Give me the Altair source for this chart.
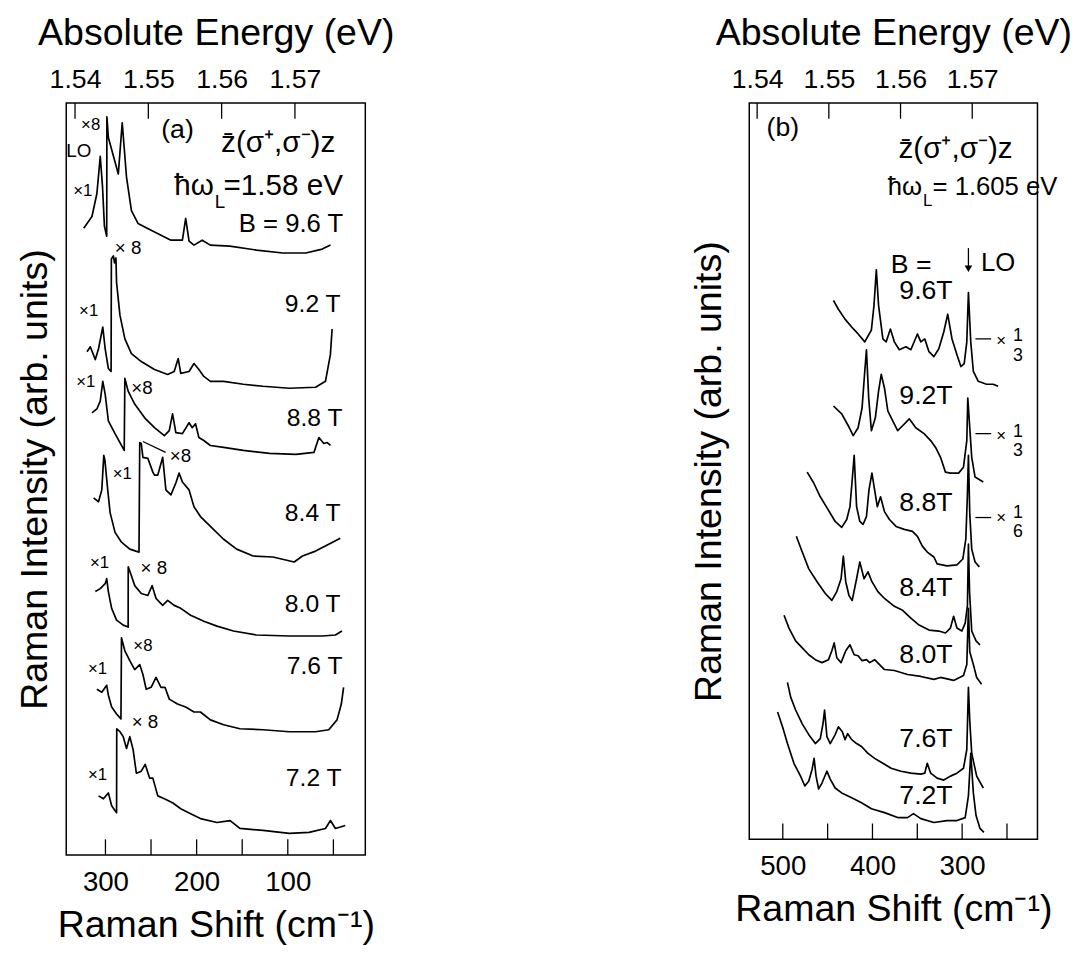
import altair as alt
import pandas as pd

FONT = "Liberation Sans"

# ---------------- Panel (a): Raman shift (cm^-1) vs intensity (arb. units) ----------------
A_FIELDS = ["9.6 T", "9.2 T", "8.8 T", "8.4 T", "8.0 T", "7.6 T", "7.2 T"]

A96_S = [323.8, 314.8, 309.4, 305.7, 303.2, 301.1, 298.6, 298.4, 296.8, 285.9, 281.6, 276.9, 271.5, 264.3,
         249.9, 228.2, 215.6, 212.0, 208.3, 202.9, 193.9, 185.0, 163.6, 134.4, 105.5, 80.3, 62.2, 53.2]
A96_I = [63.5, 64.7, 67.0, 70.8, 67.7, 63.7, 62.7, 74.8, 72.7, 69.0, 74.2, 68.7, 65.3, 64.0,
         63.3, 62.3, 62.3, 64.5, 62.2, 61.8, 62.3, 61.8, 61.7, 61.3, 61.0, 61.0, 61.4, 61.8]

A92_S = [320.2, 316.6, 311.1, 307.6, 302.9, 300.3, 296.8, 293.8, 293.5, 291.3, 290.0, 288.5, 287.8, 284.1,
         278.7, 271.5, 260.7, 246.2, 231.8, 224.6, 220.2, 217.4, 208.3, 202.9, 197.5, 192.1, 184.9, 170.4,
         148.8, 127.2, 98.4, 69.5, 58.7, 53.3, 51.4]
A92_I = [51.0, 51.5, 50.2, 51.3, 53.5, 51.3, 49.3, 49.0, 60.4, 60.7, 60.0, 60.5, 58.0, 54.7,
         52.3, 50.8, 50.0, 49.2, 48.7, 49.0, 50.3, 48.8, 49.0, 49.8, 49.2, 48.5, 48.0, 48.0,
         47.7, 47.5, 47.3, 47.4, 48.0, 50.7, 53.3]

A88_S = [314.8, 309.4, 305.7, 302.9, 300.3, 296.8, 289.5, 279.4, 278.7, 275.1, 267.9, 257.0, 246.2, 235.4,
         230.0, 226.4, 222.8, 215.6, 208.3, 204.8, 201.2, 197.5, 192.1, 184.9, 170.4, 148.8, 120.0, 91.1,
         71.3, 65.9, 60.5, 56.8, 53.2]
A88_I = [44.8, 45.2, 46.0, 48.0, 46.7, 44.0, 42.7, 41.0, 48.3, 47.0, 45.7, 44.3, 43.3, 42.5,
         43.0, 44.7, 42.8, 42.7, 43.8, 43.3, 43.7, 42.3, 42.0, 41.5, 41.3, 41.0, 40.7, 40.6,
         40.8, 42.3, 41.7, 41.8, 41.5]

A84_S = [313.0, 307.6, 304.0, 301.8, 300.6, 297.5, 294.9, 289.5, 282.4, 273.3, 263.2, 262.4, 260.7, 258.9,
         253.5, 248.0, 246.2, 242.6, 237.2, 233.7, 228.2, 222.8, 219.2, 215.6, 208.3, 202.9, 195.8, 184.9,
         170.4, 156.1, 138.0, 116.3, 93.0, 83.9, 69.5, 55.1, 42.4]
A84_I = [36.2, 35.8, 37.0, 40.5, 40.0, 37.0, 34.7, 32.7, 31.7, 31.0, 30.7, 41.8, 41.7, 40.3,
         40.2, 38.8, 38.5, 38.5, 40.3, 37.0, 36.5, 37.7, 38.7, 37.8, 37.0, 35.3, 34.3, 33.3,
         32.0, 31.0, 30.3, 30.2, 29.7, 30.3, 30.8, 31.5, 32.1]

A80_S = [311.1, 305.7, 300.3, 298.6, 296.8, 293.2, 287.8, 280.5, 275.1, 275.0, 271.5, 267.9, 260.7, 253.5,
         248.8, 244.5, 237.2, 231.8, 224.6, 217.4, 206.6, 192.1, 177.7, 159.6, 134.4, 98.4, 62.2, 47.8, 40.6]
A80_I = [26.7, 27.0, 27.5, 28.0, 26.7, 25.0, 23.8, 23.3, 23.1, 29.2, 28.3, 27.3, 26.5, 26.3,
         27.3, 26.0, 25.3, 25.8, 25.3, 25.0, 24.3, 23.7, 23.2, 22.7, 22.3, 22.2, 22.2, 22.3, 22.7]

A76_S = [309.4, 304.0, 298.6, 296.8, 293.2, 287.8, 283.0, 282.4, 278.7, 273.3, 267.9, 262.4, 258.9, 255.3,
         249.9, 244.5, 239.1, 234.7, 230.0, 221.0, 212.0, 202.9, 195.8, 184.9, 170.4, 152.5, 127.2, 98.4,
         69.5, 55.1, 46.0, 41.3, 38.8]
A76_I = [16.8, 16.5, 17.2, 16.2, 15.0, 14.3, 13.8, 22.0, 20.7, 19.7, 18.8, 19.3, 18.3, 16.8,
         17.0, 18.0, 17.0, 17.0, 15.8, 15.3, 15.0, 14.5, 14.5, 13.7, 13.2, 12.8, 12.7, 12.5,
         12.5, 12.7, 13.7, 15.3, 17.0]

A72_S = [307.6, 302.2, 296.8, 293.2, 287.8, 287.6, 284.1, 280.5, 276.9, 273.3, 269.7, 266.1, 260.7, 256.4,
         251.6, 248.0, 242.6, 235.4, 226.4, 217.4, 206.6, 195.8, 177.7, 163.3, 152.5, 127.2, 98.4, 76.7,
         58.7, 53.2, 47.8, 37.0]
A72_I = [6.0, 5.7, 6.3, 5.0, 4.3, 12.8, 12.5, 12.0, 10.8, 12.0, 10.7, 8.3, 8.5, 9.2,
         7.8, 7.8, 6.0, 5.7, 5.3, 4.7, 4.2, 3.7, 3.3, 3.5, 2.7, 2.5, 2.2, 2.3,
         2.7, 3.5, 2.7, 3.0]

# ---------------- Panel (b) ----------------
B_FIELDS = ["9.6T", "9.2T", "8.8T", "8.4T", "8.0T", "7.6T", "7.2T"]

B96_S = [443.5, 438.0, 430.6, 423.2, 416.0, 408.6, 401.2, 398.3, 395.7, 393.2, 388.4, 384.7, 380.0, 375.6,
         370.1, 362.7, 357.2, 349.9, 346.1, 341.7, 337.0, 331.5, 326.0, 320.5, 316.1, 311.3, 305.8, 301.4,
         297.7, 294.8, 293.0, 290.4, 287.5, 282.0, 272.8, 265.4, 259.9]
B96_I = [54.6, 53.7, 52.7, 51.9, 51.2, 50.4, 51.6, 54.1, 57.7, 54.1, 50.7, 50.4, 51.7, 50.4,
         49.6, 49.9, 49.6, 51.2, 50.4, 50.7, 49.4, 48.9, 49.7, 51.4, 53.2, 50.7, 49.1, 47.9,
         48.2, 50.4, 55.4, 50.4, 47.4, 46.4, 46.1, 46.1, 45.9]

B92_S = [443.5, 434.3, 427.0, 421.5, 416.0, 411.6, 408.6, 406.7, 404.2, 401.2, 396.8, 393.2, 390.2, 386.6,
         382.9, 377.4, 371.9, 366.4, 359.0, 351.7, 342.5, 335.1, 329.6, 324.1, 318.6, 313.1, 304.0, 298.5,
         294.8, 293.7, 289.3, 285.6, 276.4]
B92_I = [43.9, 43.1, 41.9, 40.9, 41.7, 43.7, 47.4, 49.6, 44.7, 41.4, 42.7, 45.4, 47.1, 45.7,
         43.4, 42.4, 41.4, 41.9, 42.6, 41.7, 41.1, 40.4, 39.7, 38.7, 37.2, 37.1, 37.1, 37.7,
         40.4, 44.7, 38.7, 36.7, 36.2]

B88_S = [472.8, 465.5, 458.2, 450.8, 441.6, 434.3, 428.7, 425.1, 422.6, 420.4, 417.7, 414.1, 410.5, 406.7,
         403.9, 400.6, 397.6, 394.6, 391.0, 386.6, 381.1, 373.7, 364.6, 355.4, 349.9, 344.4, 338.9, 331.5,
         327.9, 316.9, 305.8, 299.2, 295.9, 294.1, 293.0, 291.5, 289.3, 285.6, 280.8]
B88_I = [37.2, 36.1, 34.7, 33.6, 32.2, 31.6, 32.4, 33.7, 36.4, 38.9, 33.7, 32.2, 31.9, 32.7,
         35.4, 37.1, 35.4, 33.7, 34.7, 33.2, 32.4, 31.7, 31.4, 31.2, 30.7, 29.7, 29.1, 28.6,
         27.9, 27.7, 27.8, 28.4, 30.4, 35.0, 38.9, 33.0, 29.4, 28.1, 27.6]

B84_S = [484.9, 478.3, 471.0, 461.8, 452.6, 445.3, 439.8, 435.0, 432.5, 429.8, 426.2, 422.6, 417.7, 414.1,
         409.4, 405.0, 400.6, 394.0, 386.6, 375.6, 366.4, 357.2, 348.0, 337.0, 326.0, 318.6, 313.1, 309.5,
         305.8, 300.3, 296.6, 294.1, 293.0, 291.7, 289.3, 284.5, 280.1]
B84_I = [30.7, 29.1, 27.4, 26.1, 24.9, 24.2, 25.1, 26.4, 28.7, 26.1, 24.7, 24.2, 26.4, 28.1,
         26.4, 27.1, 26.1, 25.1, 24.4, 23.6, 23.2, 22.4, 21.7, 21.2, 21.1, 20.9, 21.4, 22.6,
         21.4, 21.1, 21.9, 23.7, 29.9, 25.0, 21.1, 20.1, 19.7]

B80_S = [498.6, 493.1, 485.7, 478.3, 471.0, 463.7, 456.3, 449.0, 445.3, 442.7, 439.8, 435.0, 429.8, 425.1,
         420.4, 416.0, 411.6, 406.7, 403.1, 397.6, 392.1, 386.6, 375.6, 360.9, 346.1, 331.5, 324.1, 309.5,
         298.5, 294.8, 293.0, 291.5, 287.5, 283.8, 278.3]
B80_I = [22.7, 21.4, 20.1, 19.4, 18.7, 18.2, 17.9, 18.2, 19.1, 19.9, 18.4, 17.9, 19.1, 19.7,
         18.7, 18.6, 18.1, 18.2, 17.9, 18.2, 17.7, 17.2, 17.1, 16.7, 16.5, 16.2, 16.4, 16.1,
         16.6, 17.7, 23.4, 19.0, 17.7, 16.4, 15.7]

B76_S = [494.8, 491.2, 485.7, 478.3, 471.0, 463.7, 458.2, 455.2, 453.4, 450.8, 447.1, 441.6, 438.0, 433.6,
         430.6, 427.6, 423.2, 417.7, 412.2, 405.0, 397.6, 388.4, 379.2, 368.2, 357.2, 346.1, 341.7, 338.9,
         335.1, 327.9, 320.5, 313.1, 305.8, 298.5, 294.8, 293.0, 291.5, 289.3, 283.8, 276.4]
B76_I = [15.9, 14.4, 13.1, 11.7, 10.6, 9.7, 10.2, 11.7, 13.1, 10.4, 9.7, 10.6, 11.4, 10.9,
         10.1, 10.7, 10.1, 9.7, 9.4, 8.7, 8.2, 7.7, 7.2, 6.9, 6.7, 6.6, 6.7, 7.7,
         6.7, 6.2, 6.0, 6.4, 6.7, 7.2, 9.1, 15.4, 12.0, 8.7, 6.4, 5.2]

B72_S = [505.8, 500.3, 494.8, 487.6, 480.2, 475.4, 471.0, 467.3, 465.1, 462.9, 460.0, 456.3, 450.8, 447.1,
         441.6, 434.3, 423.2, 412.2, 401.2, 386.6, 371.9, 360.9, 354.3, 346.1, 331.5, 316.9, 305.8, 296.6,
         293.0, 290.4, 287.5, 284.5, 280.1, 275.7]
B72_I = [12.9, 11.4, 9.7, 7.7, 6.4, 5.4, 5.9, 7.1, 8.2, 6.4, 5.1, 5.7, 6.9, 6.1,
         5.2, 4.7, 4.2, 3.7, 3.1, 2.7, 2.2, 2.2, 2.6, 2.1, 1.7, 1.9, 1.9, 2.2,
         4.4, 8.7, 4.7, 2.4, 1.1, 0.7]

# axis ticks / labels
A_SHIFT_TICKS = [300, 250, 200, 150, 100, 50]
A_SHIFT_LABELS = [300, 200, 100]
B_SHIFT_TICKS = [500, 450, 400, 350, 300, 250]
B_SHIFT_LABELS = [500, 400, 300]
EV_TICKS = [1.54, 1.55, 1.56, 1.57]

A_XDOM = [343, 15]
B_XDOM = [537.4, 216]
A_EVDOM = [1.5388, 1.5796]
B_EVDOM = [1.5389, 1.5791]
A_YDOM = [0, 76.2]
B_YDOM = [0, 74.6]

X = "\u00d7"
# annotations (shift, intensity, text, font size)
A_TEXT_C = [
    (221.0, 73.5, "(a)", 27), (110.6, 72.1, "z\u0304(\u03c3\u207a,\u03c3\u207b)z", 30),
    (96.5, 63.9, "B = 9.6 T", 26), (316.2, 74.0, X + "8", 17), (329.2, 71.3, "LO", 19),
    (324.9, 67.3, X + "1", 17), (275.1, 61.5, X + " 8", 19), (72.7, 55.8, "9.2 T", 25),
    (318.4, 55.1, X + "1", 17), (321.6, 47.9, X + "1", 17), (260.0, 47.3, X + "8", 19),
    (70.6, 44.3, "8.8 T", 25), (217.7, 40.4, X + "8", 19), (281.6, 38.6, X + "1", 17),
    (72.7, 34.6, "8.4 T", 25), (306.5, 29.6, X + "1", 17), (247.0, 29.1, X + " 8", 19),
    (72.7, 25.4, "8.0 T", 25), (258.9, 21.2, X + "8", 17), (308.7, 18.8, X + "1", 17),
    (70.6, 19.1, "7.6 T", 25), (256.7, 13.5, X + " 8", 19), (308.7, 8.1, X + "1", 17),
    (71.6, 7.8, "7.2 T", 25),
]
A_TEXT_R = [(181.0, 67.8, "\u0127\u03c9", 30)]
A_TEXT_L = [(180.0, 66.2, "L", 19), (170.5, 67.8, "=1.58 eV", 30)]
A_LEADER = [(258.9, 41.9, 234.0, 40.8)]

B_TEXT_C = [
    (500.0, 72.1, "(b)", 27), (307.3, 69.9, "z\u0304(\u03c3\u207a,\u03c3\u207b)z", 30),
    (356.8, 58.2, "B =", 27), (340.3, 55.5, "9.6T", 27), (259.9, 58.4, "LO", 26),
    (340.3, 44.9, "9.2T", 27), (340.3, 34.1, "8.8T", 27), (340.3, 25.4, "8.4T", 27),
    (340.3, 18.7, "8.0T", 27), (340.3, 10.2, "7.6T", 27), (340.3, 4.4, "7.2T", 27),
    (256.6, 50.5, X, 17), (237.9, 51.0, "1", 18), (237.9, 49.0, "3", 18),
    (256.6, 40.9, X, 17), (237.9, 41.3, "1", 18), (237.9, 39.3, "3", 18),
    (256.6, 32.5, X, 17), (237.9, 33.1, "1", 18), (237.9, 31.1, "6", 18),
]
B_TEXT_R = [(344.7, 66.1, "\u0127\u03c9", 26)]
B_TEXT_L = [(343.6, 64.7, "L", 17), (333.0, 66.1, "= 1.605 eV", 26)]
B_DASHES = [(285.2, 50.7, 267.6, 50.7), (285.2, 41.1, 267.6, 41.1), (285.2, 32.6, 267.6, 32.6)]
B_ARROW = [(293.0, 59.9, 293.0, 57.8)]


def curves_df(curves):
    rows = []
    for name, s, v in curves:
        for i, (x, y) in enumerate(zip(s, v)):
            rows.append({"curve": name, "i": i, "shift": x, "inten": y})
    return pd.DataFrame(rows)


def make_yaxis(pad):
    return alt.Axis(labels=False, ticks=False, tickSize=0, domain=False, grid=False,
                    title="Raman Intensity (arb. units)", titleFontSize=38, titlePadding=pad)


def xs(field, dom, axis=None):
    return alt.X(field, scale=alt.Scale(domain=dom, nice=False, zero=False), axis=axis)


def ys(field, dom, axis):
    return alt.Y(field, scale=alt.Scale(domain=dom, nice=False, zero=False), axis=axis)


def text_layer(items, xdom, ydom, yaxis, align):
    df = pd.DataFrame(items, columns=["shift", "inten", "label", "fs"])
    return alt.Chart(df).mark_text(font=FONT, align=align, baseline="middle", color="black").encode(
        x=xs("shift:Q", xdom), y=ys("inten:Q", ydom, yaxis), text="label:N",
        size=alt.Size("fs:Q", scale=None, legend=None))


def seg_layer(items, xdom, ydom, yaxis, width=1.3):
    df = pd.DataFrame(items, columns=["x1", "y1", "x2", "y2"])
    return alt.Chart(df).mark_rule(color="black", strokeWidth=width).encode(
        x=xs("x1:Q", xdom), x2="x2:Q", y=ys("y1:Q", ydom, yaxis), y2="y2:Q")


def panel(curves, xdom, ydom, evdom, w, h, xtick_vals, xlabel_vals, texts_c, texts_r, texts_l, segs,
          ytitle_pad, arrow=None):
    df = curves_df(curves)
    yaxis = make_yaxis(ytitle_pad)
    xaxis = alt.Axis(values=xlabel_vals, ticks=False, tickSize=0, domain=False, grid=False, labelFontSize=28,
                     labelPadding=14, title="Raman Shift (cm\u207b\u00b9)", titleFontSize=38, titlePadding=10,
                     labelFlush=False)
    lines = alt.Chart(df).mark_line(color="black", strokeWidth=1.7, strokeJoin="round").encode(
        x=xs("shift:Q", xdom, xaxis), y=ys("inten:Q", ydom, yaxis), detail="curve:N", order="i:Q")
    bt = alt.Chart(pd.DataFrame({"shift": xtick_vals})).mark_rule(color="black", strokeWidth=1.3).encode(
        x=xs("shift:Q", xdom), y=alt.value(h - 16), y2=alt.value(h))
    evaxis = alt.Axis(orient="top", values=EV_TICKS, ticks=False, tickSize=0, domain=False, grid=False,
                      labelFontSize=27, labelPadding=10, format=".2f", title="Absolute Energy (eV)",
                      titleFontSize=38, titlePadding=13, labelFlush=False)
    tt = alt.Chart(pd.DataFrame({"ev": EV_TICKS})).mark_rule(color="black", strokeWidth=1.3).encode(
        x=alt.X("ev:Q", scale=alt.Scale(domain=evdom, nice=False, zero=False), axis=evaxis),
        y=alt.value(0), y2=alt.value(16))
    layers = [lines, bt, tt,
              text_layer(texts_c, xdom, ydom, yaxis, "center"),
              text_layer(texts_r, xdom, ydom, yaxis, "right"),
              text_layer(texts_l, xdom, ydom, yaxis, "left")]
    for s in segs:
        layers.append(seg_layer(s, xdom, ydom, yaxis))
    if arrow is not None:
        head = pd.DataFrame({"shift": [arrow[0][2]], "inten": [arrow[0][3]]})
        layers.append(alt.Chart(head).mark_point(shape="triangle-down", filled=True, color="black",
                                                 size=60, opacity=1).encode(
            x=xs("shift:Q", xdom), y=ys("inten:Q", ydom, yaxis)))
    return alt.layer(*layers).resolve_scale(x="independent").properties(width=w, height=h)


A_CURVES = list(zip(A_FIELDS, [A96_S, A92_S, A88_S, A84_S, A80_S, A76_S, A72_S],
                    [A96_I, A92_I, A88_I, A84_I, A80_I, A76_I, A72_I]))
B_CURVES = list(zip(B_FIELDS, [B96_S, B92_S, B88_S, B84_S, B80_S, B76_S, B72_S],
                    [B96_I, B92_I, B88_I, B84_I, B80_I, B76_I, B72_I]))

pa = panel(A_CURVES, A_XDOM, A_YDOM, A_EVDOM, 303, 762, A_SHIFT_TICKS, A_SHIFT_LABELS,
           A_TEXT_C, A_TEXT_R, A_TEXT_L, [A_LEADER], 12)
pb = panel(B_CURVES, B_XDOM, B_YDOM, B_EVDOM, 292, 746, B_SHIFT_TICKS, B_SHIFT_LABELS,
           B_TEXT_C, B_TEXT_R, B_TEXT_L, [B_DASHES, B_ARROW], 21, arrow=B_ARROW)

chart = alt.hconcat(pa, pb, spacing=299).configure_view(stroke="black", strokeWidth=1.5).configure_axis(
    labelFont=FONT, titleFont=FONT, labelColor="black", titleColor="black", titleFontWeight="normal"
).properties(background="white", padding={"left": 8, "top": 0, "right": 0, "bottom": 5})

chart.save("out.html", embed_options={"renderer": "svg", "actions": False})
